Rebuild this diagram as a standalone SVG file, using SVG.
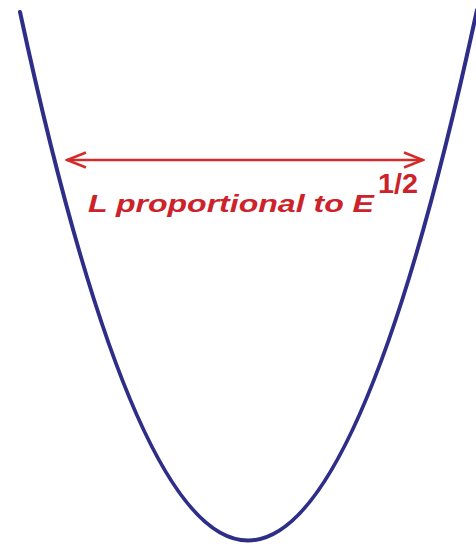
<svg xmlns="http://www.w3.org/2000/svg" width="476" height="544" viewBox="0 0 476 544">
  <style>
    .well { fill: none; stroke: #2e2e88; stroke-width: 4; stroke-linecap: round; }
    .dim { stroke: #d42a2a; stroke-width: 2.5; fill: none; }
    .lbl { fill: #cc2229; font-family: "Liberation Sans", Arial, sans-serif; font-weight: bold; }
  </style>
  <defs>
    <marker id="head" markerUnits="userSpaceOnUse" viewBox="-22 -10 24 20" refX="0" refY="0" markerWidth="24" markerHeight="20" orient="auto-start-reverse">
      <path d="M-19,-7.5 L0,0 L-19,7.5" fill="none" stroke="#d42a2a" stroke-width="2.5" stroke-linejoin="miter"/>
    </marker>
  </defs>
  <rect width="476" height="544" fill="#ffffff"/>
  <g id="well">
    <path class="well" d="M20,12 Q248,1070 477,10"/>
  </g>
  <g id="connectors">
    <line class="dim" x1="67" y1="160" x2="423" y2="160" marker-start="url(#head)" marker-end="url(#head)"/>
  </g>
  <g id="label">
    <text class="lbl" x="88" y="211.5" font-size="23" font-style="italic" textLength="286" lengthAdjust="spacingAndGlyphs">L proportional to E</text>
    <text class="lbl" x="378" y="193" font-size="27" textLength="40" lengthAdjust="spacingAndGlyphs">1/2</text>
  </g>
</svg>
